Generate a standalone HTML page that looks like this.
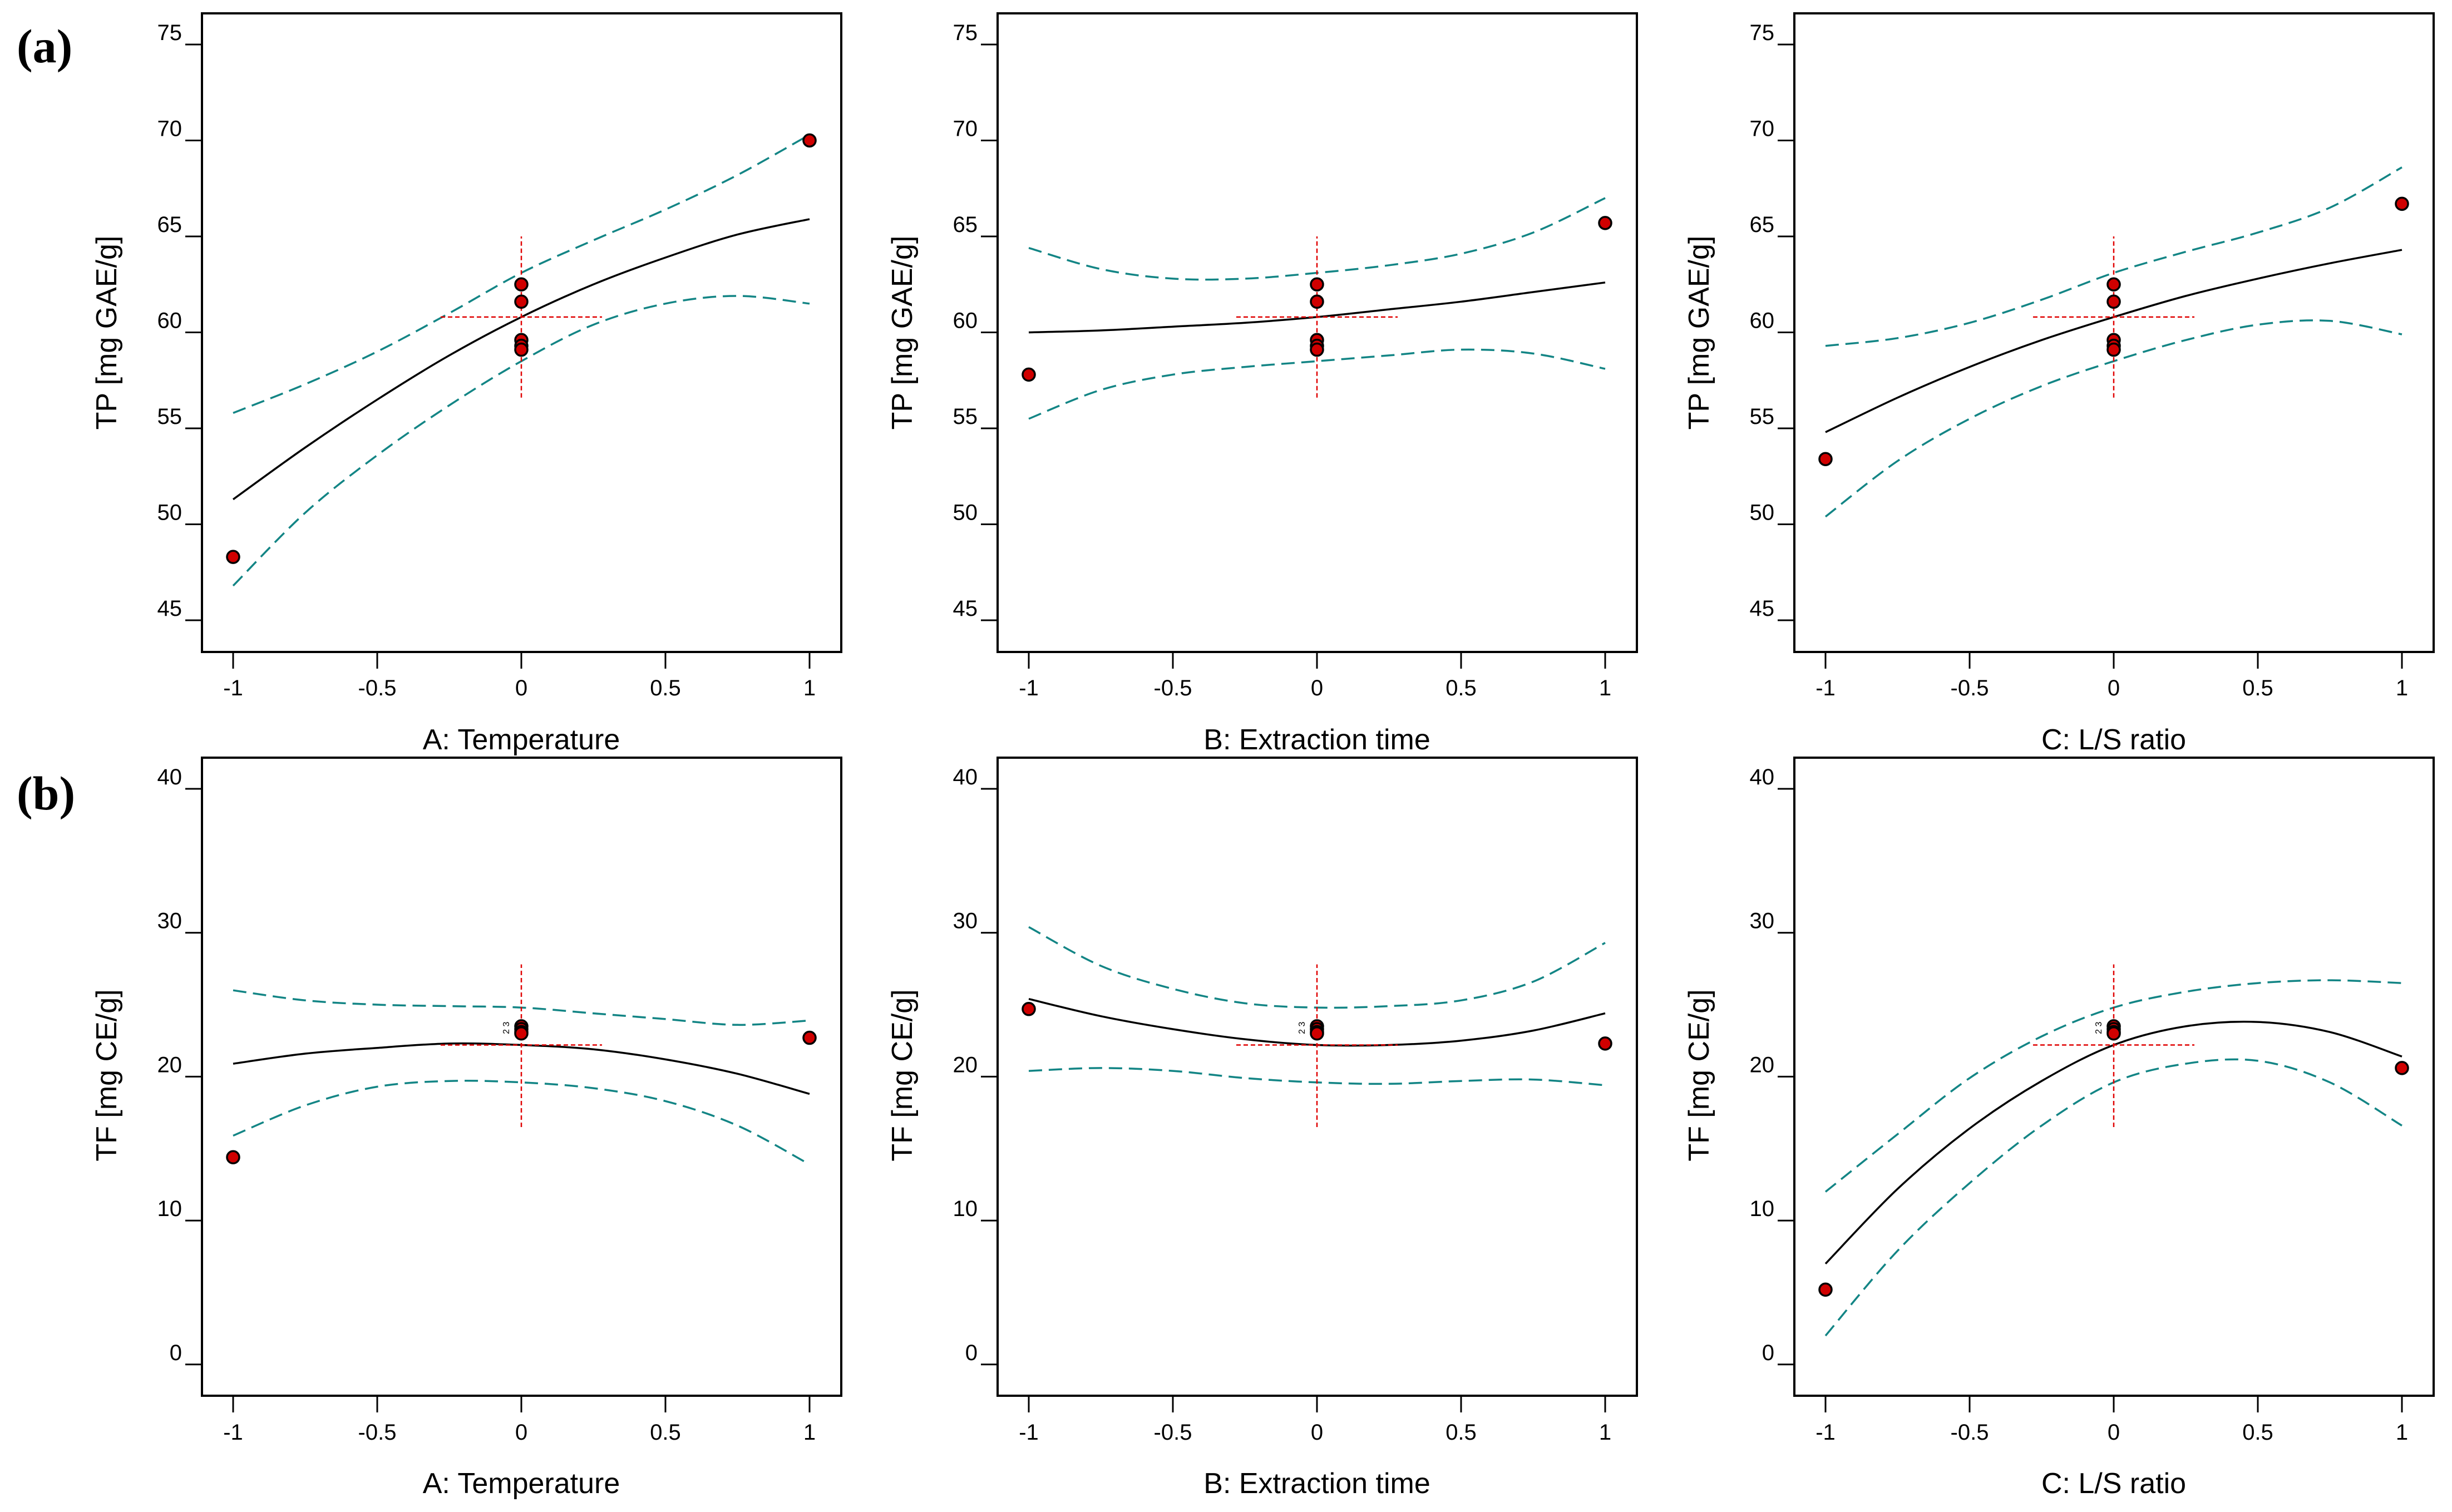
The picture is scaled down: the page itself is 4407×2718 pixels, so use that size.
<!DOCTYPE html>
<html><head><meta charset="utf-8"><style>
html,body{margin:0;padding:0;background:#fff}
svg{display:block}
text{font-family:"Liberation Sans","DejaVu Sans",sans-serif;fill:#000}
</style></head><body>
<svg id="chart" width="4407" height="2718" viewBox="0 0 4407 2718" xmlns="http://www.w3.org/2000/svg"></svg>
<script>
const xGrid = [-1,-0.75,-0.5,-0.25,0,0.25,0.5,0.75,1];
const xTicks = [-1,-0.5,0,0.5,1];
const xTickLabels = ["-1","-0.5","0","0.5","1"];
const tpTicks = [45,50,55,60,65,70,75];
const tfTicks = [0,10,20,30,40];
const factorTitles = ["A: Temperature","B: Extraction time","C: L/S ratio"];
const centerTP = [62.5,61.6,59.6,59.3,59.1];
const centerTF = [23.5,23.3,23.1,23.0];
const crossTP = [60.8,56.6,65.0];
const crossTF = [22.2,16.5,27.8];
const a1Fit=[51.3,54.0,56.5,58.8,60.8,62.5,63.9,65.1,65.9];
const a1Up=[55.8,57.3,59.0,61.0,63.1,64.8,66.4,68.2,70.3];
const a1Lo=[46.8,50.6,53.6,56.2,58.5,60.4,61.5,61.9,61.5];
const a1Pts=[48.3,70.0];
const a2Fit=[60.0,60.1,60.3,60.5,60.8,61.2,61.6,62.1,62.6];
const a2Up=[64.4,63.3,62.8,62.8,63.1,63.5,64.1,65.2,67.0];
const a2Lo=[55.5,57.0,57.8,58.2,58.5,58.8,59.1,58.9,58.1];
const a2Pts=[57.8,65.7];
const a3Fit=[54.8,56.6,58.2,59.6,60.8,61.9,62.8,63.6,64.3];
const a3Up=[59.3,59.7,60.5,61.7,63.1,64.2,65.2,66.5,68.6];
const a3Lo=[50.4,53.3,55.5,57.2,58.5,59.6,60.4,60.6,59.9];
const a3Pts=[53.4,66.7];
const b1Fit=[20.9,21.6,22.0,22.3,22.2,21.9,21.2,20.2,18.8];
const b1Up=[26.0,25.3,25.0,24.9,24.8,24.4,24.0,23.6,23.9];
const b1Lo=[15.9,18.0,19.3,19.7,19.6,19.2,18.3,16.6,13.9];
const b1Pts=[14.4,22.7];
const b2Fit=[25.4,24.2,23.3,22.6,22.2,22.2,22.5,23.2,24.4];
const b2Up=[30.4,27.7,26.1,25.1,24.8,24.9,25.3,26.6,29.3];
const b2Lo=[20.4,20.6,20.4,19.9,19.6,19.5,19.7,19.8,19.4];
const b2Pts=[24.7,22.3];
const b3Fit=[7.0,12.2,16.4,19.7,22.2,23.5,23.8,23.1,21.4];
const b3Up=[12.0,16.0,19.9,22.8,24.8,25.9,26.5,26.7,26.5];
const b3Lo=[2.0,7.9,12.6,16.6,19.6,20.9,21.1,19.6,16.6];
const b3Pts=[5.2,20.6];

const NS="http://www.w3.org/2000/svg";
const svg=document.getElementById('chart');
function mk(tag,attrs,parent){const e=document.createElementNS(NS,tag);for(const k in attrs)e.setAttribute(k,attrs[k]);(parent||svg).appendChild(e);return e;}

function spline(pts){
  let d="M"+pts[0][0].toFixed(1)+","+pts[0][1].toFixed(1);
  for(let i=0;i<pts.length-1;i++){
    const p0=pts[Math.max(0,i-1)],p1=pts[i],p2=pts[i+1],p3=pts[Math.min(pts.length-1,i+2)];
    const c1=[p1[0]+(p2[0]-p0[0])/6,p1[1]+(p2[1]-p0[1])/6];
    const c2=[p2[0]-(p3[0]-p1[0])/6,p2[1]-(p3[1]-p1[1])/6];
    d+=" C"+c1[0].toFixed(1)+","+c1[1].toFixed(1)+" "+c2[0].toFixed(1)+","+c2[1].toFixed(1)+" "+p2[0].toFixed(1)+","+p2[1].toFixed(1);
  }
  return d;
}

const panelLefts=[363,1793,3225];
const rows=[
 {top:24,bottom:1172,yTop:75,yTopPx:80,ppu:34.5,ticks:tpTicks,ylab:"TP [mg GAE/g]",center:centerTP,cross:crossTP,
  series:[[a1Fit,a1Up,a1Lo,a1Pts],[a2Fit,a2Up,a2Lo,a2Pts],[a3Fit,a3Up,a3Lo,a3Pts]],tickLabY:1250,titleY:1347,ylabY:598,label:"(a)",labY:112,nums:false},
 {top:1362,bottom:2509,yTop:40,yTopPx:1418,ppu:25.87,ticks:tfTicks,ylab:"TF [mg CE/g]",center:centerTF,cross:crossTF,
  series:[[b1Fit,b1Up,b1Lo,b1Pts],[b2Fit,b2Up,b2Lo,b2Pts],[b3Fit,b3Up,b3Lo,b3Pts]],tickLabY:2588,titleY:2684,ylabY:1933,label:"(b)",labY:1455,nums:true}
];

rows.forEach((r,ri)=>{
  const lab=mk('text',{x:30,y:r.labY,style:'font-family:"Liberation Serif",serif;font-weight:bold;font-size:86px'});
  
  
  lab.textContent=r.label;
  panelLefts.forEach((L,pi)=>{
    const g=mk('g',{});
    
    
    const X=v=>L+56+(v+1)*518;
    const Y=v=>r.yTopPx+(r.yTop-v)*r.ppu;
    const frame=mk('rect',{x:L,y:r.top,width:1149,height:r.bottom-r.top,fill:'none',stroke:'#000','stroke-width':4},g);
    
    
    xTicks.forEach((t,i)=>{
      const tk=mk('line',{x1:X(t),x2:X(t),y1:r.bottom,y2:r.bottom+30,stroke:'#000','stroke-width':3},g);
      
      
      const tl=mk('text',{x:X(t),y:r.tickLabY,'font-size':40,'text-anchor':'middle'},g);
      
      
      tl.textContent=xTickLabels[i];
    });
    r.ticks.forEach(t=>{
      const tk=mk('line',{x1:L-30,x2:L,y1:Y(t),y2:Y(t),stroke:'#000','stroke-width':3},g);
      
      
      const tl=mk('text',{x:L-36,y:Y(t)-8,'font-size':40,'text-anchor':'end'},g);
      
      
      tl.textContent=String(t);
    });
    const xt=mk('text',{x:X(0),y:r.titleY,'font-size':52,'text-anchor':'middle'},g);
    
    
    xt.textContent=factorTitles[pi];
    const yt=mk('text',{x:0,y:0,'font-size':52,'text-anchor':'middle',transform:'translate('+(L-154)+','+r.ylabY+') rotate(-90)'},g);
    
    
    yt.textContent=r.ylab;
    const s=r.series[pi];
    const toPts=arr=>arr.map((v,i)=>[X(xGrid[i]),Y(v)]);
    const up=mk('path',{d:spline(toPts(s[1])),fill:'none',stroke:'#138585','stroke-width':3.5,'stroke-dasharray':'24 12'},g);
    
    
    const lo=mk('path',{d:spline(toPts(s[2])),fill:'none',stroke:'#138585','stroke-width':3.5,'stroke-dasharray':'24 12'},g);
    
    
    const fit=mk('path',{d:spline(toPts(s[0])),fill:'none',stroke:'#000','stroke-width':3.5},g);
    
    
    const ch=mk('line',{x1:X(-0.28),x2:X(0.28),y1:Y(r.cross[0]),y2:Y(r.cross[0]),stroke:'#e00000','stroke-width':2.5,'stroke-dasharray':'8 5'},g);
    
    
    const cv=mk('line',{x1:X(0),x2:X(0),y1:Y(r.cross[1]),y2:Y(r.cross[2]),stroke:'#e00000','stroke-width':2.5,'stroke-dasharray':'8 5'},g);
    
    
    const pts=[[-1,s[3][0]],[1,s[3][1]]].concat(r.center.map(v=>[0,v]));
    pts.forEach(p=>{
      const c=mk('circle',{cx:X(p[0]),cy:Y(p[1]),r:11,fill:'#d00000',stroke:'#000','stroke-width':3.5},g);
      
      
    });
    if(r.nums){
      const n=mk('text',{x:0,y:0,'font-size':16,transform:'translate('+(X(0)-22)+','+(Y(r.center[0])+14)+') rotate(-90)'},g);
      
      
      n.textContent="2 3";
    }
  });
});
</script>
</body></html>
